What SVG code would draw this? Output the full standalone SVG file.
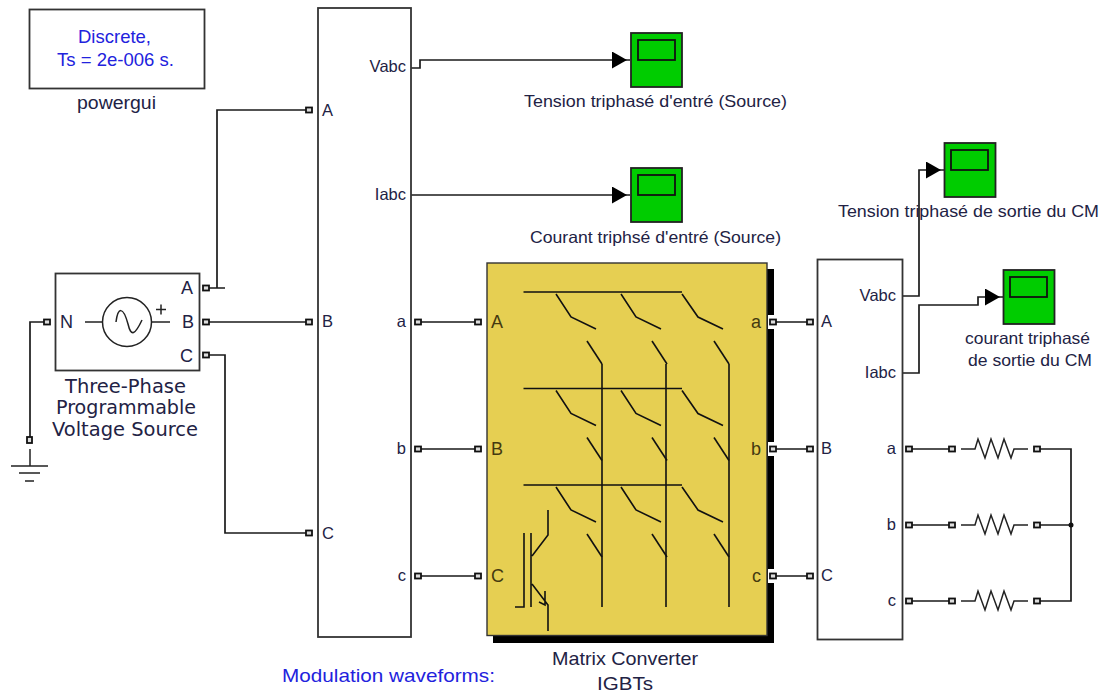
<svg xmlns="http://www.w3.org/2000/svg" xmlns:xlink="http://www.w3.org/1999/xlink" width="1104" height="693" viewBox="0 0 1104 693">
<defs>
<style>
text{font-family:"Liberation Sans",Arial,sans-serif;font-size:16.500px;fill:#222244;}
.lbl{font-size:16.500px;text-anchor:middle;}
.blue{fill:#2222dd;font-size:18.500px;text-anchor:middle;}
.box{fill:#fff;stroke:#333;stroke-width:1.800;}
.w{fill:none;stroke:#1a1a1a;stroke-width:1.700;}
.g{fill:none;stroke:#111;stroke-width:1.600;}
.th{fill:none;stroke:#222;stroke-width:1.500;}
.scope{fill:#00cc00;stroke:#222;stroke-width:1.800;}
.screen{fill:#00cc00;stroke:#111;stroke-width:1.800;}
.p{fill:#ddd;stroke:#111;stroke-width:1.800;}
.big{font-size:19px;text-anchor:middle;font-family:"DejaVu Sans",sans-serif;}
.srcp{font-size:18px;}
.matp{font-size:18px;fill:#443a10;}
.end{text-anchor:end;}
</style>
<rect id="pt" x="-3" y="-2.500" width="6" height="5" class="p"/>
<marker id="ah" markerUnits="userSpaceOnUse" markerWidth="20" markerHeight="18" refX="18" refY="8.500" orient="auto"><path d="M0 0L15 8.500L0 17Z" fill="#000"/></marker>
<path id="res" d="M0 0H14L17 -10L24 9L30 -10L37 9L43 -10L50 9L53 0H67" class="th"/>
<g id="sw"><path class="g" d="M0 2L15 25L40 37"/><path class="g" d="M31 49L46 72"/></g>
<g id="sw3"><path class="g" d="M0 2L16 25L41 37"/><path class="g" d="M32 49L47 72"/></g>
</defs>

<g id="connectors">
<path class="w" d="M209 288H225M217 288V110H306"/>
<path class="w" d="M209 322H306"/>
<path class="w" d="M209 355H225V533H306"/>
<path class="w" d="M44 322H30V437"/>
<path class="w" d="M411 68H420V60H630" marker-end="url(#ah)"/>
<path class="w" d="M411 195H630" marker-end="url(#ah)"/>
<path class="w" d="M418 322H478M418 449H478M418 576H478"/>
<path class="w" d="M773 322H808M773 449H808M773 576H808"/>
<path class="w" d="M902 296H919V170H944" marker-end="url(#ah)"/>
<path class="w" d="M902 373H919V305H978V297H1003" marker-end="url(#ah)"/>
<path class="w" d="M909 449H952M909 525H952M909 601H952"/>
<path class="w" d="M1037 449H1071V601H1037M1037 525H1071"/>
<circle cx="1071" cy="525" r="2.500" fill="#111"/>
</g>

<g id="powergui">
<rect class="box" x="29.500" y="9.500" width="175" height="79"/>
<text class="blue" x="114.500" y="42.500" textLength="73" lengthAdjust="spacingAndGlyphs">Discrete,</text>
<text class="blue" x="115.500" y="66" textLength="117" lengthAdjust="spacingAndGlyphs">Ts = 2e-006 s.</text>
<text class="lbl" x="116.500" y="109" textLength="79" lengthAdjust="spacingAndGlyphs" style="font-size:18px">powergui</text>
</g>

<g id="source">
<rect class="box" x="55.500" y="273.500" width="144" height="97"/>
<circle cx="127" cy="322" r="24.500" class="th" fill="#fff"/>
<path class="th" d="M85 322H102.500M151.500 322H170M156 309.500H166M161 304.500V314.500"/>
<path class="th" d="M116 322C118 307 123 306 128 324C131 337 135 335 142 320"/>
<text class="srcp" x="60" y="328">N</text>
<text class="srcp" x="181" y="294">A</text>
<text class="srcp" x="182" y="328">B</text>
<text class="srcp" x="180" y="362">C</text>
<text class="big" x="125.500" y="392.500" textLength="121" lengthAdjust="spacingAndGlyphs">Three-Phase</text>
<text class="big" x="126" y="414" textLength="140" lengthAdjust="spacingAndGlyphs">Programmable</text>
<text class="big" x="125" y="436" textLength="146" lengthAdjust="spacingAndGlyphs">Voltage Source</text>
<use xlink:href="#pt" x="206" y="288"/><use xlink:href="#pt" x="206" y="322"/><use xlink:href="#pt" x="206" y="355"/><use xlink:href="#pt" x="47" y="322"/>
</g>

<g id="ground">
<use xlink:href="#pt" transform="translate(29.500 440) rotate(90)"/>
<path class="th" d="M30 449V466M11 466H48M19 473H40M25 481H34"/>
</g>

<g id="bus1">
<rect class="box" x="318" y="8" width="93" height="629"/>
<text x="322" y="116">A</text><text x="322" y="327">B</text><text x="322" y="539">C</text>
<text class="end" x="406" y="72">Vabc</text><text class="end" x="406" y="200">Iabc</text>
<text class="end" x="406" y="327">a</text><text class="end" x="406" y="454">b</text><text class="end" x="406" y="581">c</text>
<use xlink:href="#pt" x="309" y="110"/><use xlink:href="#pt" x="309" y="322"/><use xlink:href="#pt" x="309" y="533"/>
<use xlink:href="#pt" x="418" y="322"/><use xlink:href="#pt" x="418" y="449"/><use xlink:href="#pt" x="418" y="576"/>
</g>

<g id="matrix">
<rect x="493" y="269" width="281" height="374" fill="#000"/>
<rect x="487" y="263" width="280" height="372.500" fill="#e6cf52" stroke="#333" stroke-width="1.400"/>
<rect x="768" y="315" width="7" height="14" fill="#fff"/><rect x="768" y="442" width="7" height="14" fill="#fff"/><rect x="768" y="569" width="7" height="14" fill="#fff"/>
<path class="g" d="M523.500 292H682M523.500 388.500H682M523.500 485H682"/>
<path class="g" d="M602 364V607M666 364V607M729 364V607"/>
<use xlink:href="#sw" x="556" y="292"/><use xlink:href="#sw" x="621" y="292"/><use xlink:href="#sw3" x="682" y="292"/>
<use xlink:href="#sw" x="556" y="388.500"/><use xlink:href="#sw" x="621" y="388.500"/><use xlink:href="#sw3" x="682" y="388.500"/>
<use xlink:href="#sw" x="556" y="485"/><use xlink:href="#sw" x="621" y="485"/><use xlink:href="#sw3" x="682" y="485"/>
<path class="g" d="M548 510V535L532 556M531 533V607M524 533V607H515M532 584L548 605V631M545 591V605L539 602"/>
<text class="matp" x="491" y="328">A</text><text class="matp" x="491" y="455">B</text><text class="matp" x="491" y="582">C</text>
<text class="matp end" x="761" y="328">a</text><text class="matp end" x="761" y="455">b</text><text class="matp end" x="761" y="582">c</text>
<use xlink:href="#pt" x="478" y="322"/><use xlink:href="#pt" x="478" y="449"/><use xlink:href="#pt" x="478" y="576"/>
<use xlink:href="#pt" x="773" y="322"/><use xlink:href="#pt" x="773" y="449"/><use xlink:href="#pt" x="773" y="576"/>
<text class="lbl" x="625" y="665" textLength="146" lengthAdjust="spacingAndGlyphs" style="font-size:19px">Matrix Converter</text>
<text class="lbl" x="625" y="690" textLength="56" lengthAdjust="spacingAndGlyphs" style="font-size:19px">IGBTs</text>
</g>

<g id="bus2">
<rect class="box" x="817.500" y="259.500" width="85" height="380"/>
<text x="821" y="327">A</text><text x="821" y="454">B</text><text x="821" y="581">C</text>
<text class="end" x="896" y="301">Vabc</text><text class="end" x="896" y="378">Iabc</text>
<text class="end" x="896" y="454">a</text><text class="end" x="896" y="530">b</text><text class="end" x="896" y="606">c</text>
<use xlink:href="#pt" x="810" y="322"/><use xlink:href="#pt" x="810" y="449"/><use xlink:href="#pt" x="810" y="576"/>
<use xlink:href="#pt" x="909" y="449"/><use xlink:href="#pt" x="909" y="525"/><use xlink:href="#pt" x="909" y="601"/>
</g>

<g id="r1"><use xlink:href="#pt" x="952" y="449"/><use xlink:href="#res" x="961" y="449"/><use xlink:href="#pt" x="1037" y="449"/></g>
<g id="r2"><use xlink:href="#pt" x="952" y="525"/><use xlink:href="#res" x="961" y="525"/><use xlink:href="#pt" x="1037" y="525"/></g>
<g id="r3"><use xlink:href="#pt" x="952" y="601"/><use xlink:href="#res" x="961" y="601"/><use xlink:href="#pt" x="1037" y="601"/></g>

<g id="scope1"><rect class="scope" x="631" y="33" width="51" height="54"/><rect class="screen" x="638" y="40" width="37" height="20"/>
<text class="lbl" x="655.500" y="107" textLength="263" lengthAdjust="spacingAndGlyphs">Tension triphasé d'entré (Source)</text></g>
<g id="scope2"><rect class="scope" x="631" y="168" width="51" height="54"/><rect class="screen" x="638" y="175" width="37" height="20"/>
<text class="lbl" x="655.500" y="242.500" textLength="251" lengthAdjust="spacingAndGlyphs">Courant triphsé d'entré (Source)</text></g>
<g id="scope3"><rect class="scope" x="944.500" y="143" width="51" height="54"/><rect class="screen" x="951" y="150" width="37" height="20"/>
<text class="lbl" x="968.500" y="217" textLength="261" lengthAdjust="spacingAndGlyphs">Tension triphasé de sortie du CM</text></g>
<g id="scope4"><rect class="scope" x="1003.500" y="270" width="51" height="54"/><rect class="screen" x="1010" y="277" width="37" height="20"/>
<text class="lbl" x="1027.500" y="344" textLength="125" lengthAdjust="spacingAndGlyphs">courant triphasé</text><text class="lbl" x="1030" y="366" textLength="124" lengthAdjust="spacingAndGlyphs">de sortie du CM</text></g>

<text id="modulation" x="388.500" y="682" class="blue" textLength="213" lengthAdjust="spacingAndGlyphs" style="font-size:19px">Modulation waveforms:</text>
</svg>
